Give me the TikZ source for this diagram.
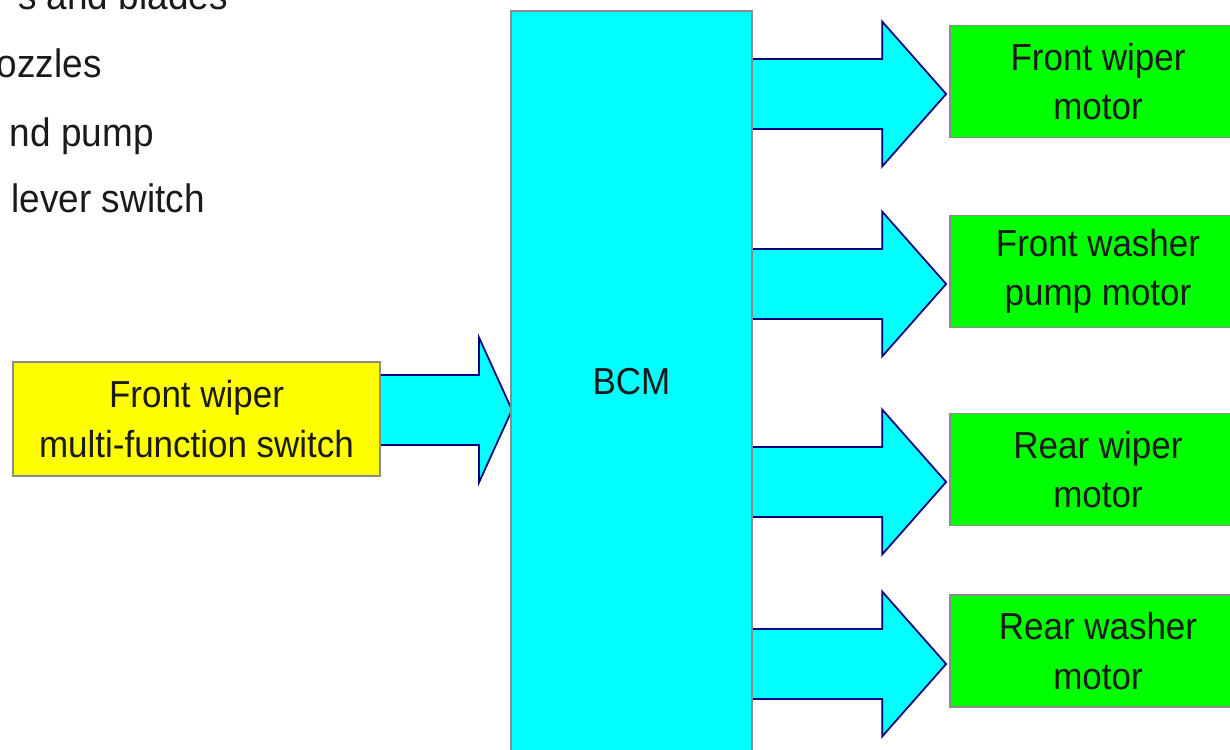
\documentclass[tikz,border=0pt]{standalone}
\usepackage{fontspec}
\setmainfont[FakeStretch=0.93]{Liberation Sans}
\usepackage{tikz}
\usetikzlibrary{calc, positioning, backgrounds}

\definecolor{bcmcyan}{HTML}{00FFFF}
\definecolor{swyellow}{HTML}{FFFF00}
\definecolor{motgreen}{HTML}{00FF00}
\definecolor{boxgray}{HTML}{8C8C8C}
\definecolor{arrnavy}{HTML}{000080}
\definecolor{txtdark}{HTML}{1A1A1A}

% fat arrow from node #1 (east side) to tip #2, head length #3
\newcommand{\fatarrow}[3]{%
  \begin{pgfonlayer}{background}
  \filldraw[fatarrowline] ($(#1.east |- #2)+(0,0.7)$) -- ($(#2)+(-#3,0.7)$)
    -- ($(#2)+(-#3,1.45)$) -- (#2) -- ($(#2)+(-#3,-1.45)$)
    -- ($(#2)+(-#3,-0.7)$) -- ($(#1.east |- #2)+(0,-0.7)$);
  \end{pgfonlayer}
}

\begin{document}
\begin{tikzpicture}[
    font=\fontsize{21.4}{28}\selectfont, text=txtdark,
    unitbox/.style={draw=boxgray, line width=1pt, align=center, inner sep=0pt},
    bcmbox/.style={unitbox, fill=bcmcyan, minimum width=4.82cm, minimum height=14.84cm},
    switchbox/.style={unitbox, fill=swyellow, minimum width=7.34cm, minimum height=2.28cm},
    motorbox/.style={unitbox, fill=motgreen, minimum width=5.92cm, minimum height=2.24cm},
    listline/.style={anchor=base east, inner sep=0pt, font=\fontsize{22.6}{28}\selectfont},
    fatarrowline/.style={fill=bcmcyan, draw=arrnavy, line width=1pt, line join=miter}
]
    \useasboundingbox (0,0) rectangle (24.6,14.98);

    % =================================================================
    % 1. CUT-OFF TEXT AT TOP LEFT
    % =================================================================
    \node[listline] (l1) at (4.56,14.78) {s and blades};
    \node[listline] (l2) at (2.04,13.42) {ozzles};
    \node[listline] (l3) at (3.08,12.04) {nd pump};
    \node[listline] (l4) at (4.10,10.72) {lever switch};

    % =================================================================
    % 2. BOXES
    % =================================================================
    \node[bcmbox] (bcm) at (12.63,7.34) {BCM};
    \node[switchbox] (sw) at (3.93,6.60) {Front wiper\\multi-function switch};

    \node[motorbox] (fwm) at (21.96,13.35) {Front wiper\\motor};
    \node[motorbox] (fwp) at (21.96,9.55) {Front washer\\pump motor};
    \node[motorbox] (rwm) at (21.96,5.59) {Rear wiper\\motor};
    \node[motorbox] (rwp) at (21.96,1.96) {Rear washer\\motor};

    % =================================================================
    % 3. FAT ARROWS
    % =================================================================
    \coordinate (tipsw) at (10.24,6.78);
    \coordinate (tip1) at ($(fwm.west)+(-0.06,-0.25)$);
    \coordinate (tip2) at ($(fwp.west)+(-0.06,-0.25)$);
    \coordinate (tip3) at ($(rwm.west)+(-0.06,-0.25)$);
    \coordinate (tip4) at ($(rwp.west)+(-0.06,-0.26)$);

    \fatarrow{sw}{tipsw}{0.66}
    \fatarrow{bcm}{tip1}{1.28}
    \fatarrow{bcm}{tip2}{1.28}
    \fatarrow{bcm}{tip3}{1.28}
    \fatarrow{bcm}{tip4}{1.28}

\end{tikzpicture}
\end{document}
